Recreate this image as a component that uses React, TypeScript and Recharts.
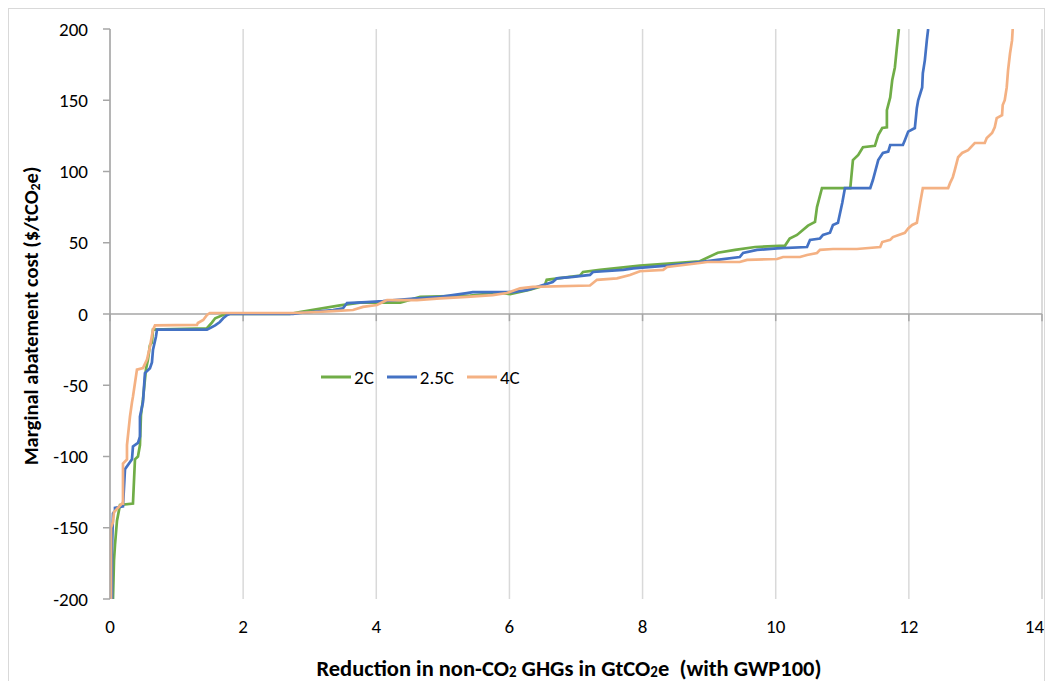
import { LineChart, Line, XAxis, YAxis, CartesianGrid, ReferenceLine } from 'recharts';

// Reduction (GtCO2e) vs marginal abatement cost ($/tCO2e)
const points2C: [number, number][] = [
  [0.045, -200], [0.06, -173], [0.075, -162], [0.105, -145], [0.15, -134], [0.345, -133], [0.375, -102],
  [0.42, -100], [0.45, -92], [0.465, -71], [0.495, -60], [0.54, -39], [0.57, -32], [0.6, -22], [0.63, -20],
  [0.646, -11], [1.457, -10], [1.53, -6], [1.58, -3], [1.73, 0], [2.7, 0], [2.85, 1.4], [3.455, 6],
  [3.755, 8], [4.36, 8], [4.66, 12], [5.41, 13], [5.86, 15], [6.01, 14], [6.31, 17], [6.53, 20], [6.56, 24],
  [7.06, 27], [7.105, 29.5], [7.36, 31], [7.96, 34], [8.86, 37], [9.13, 43], [9.39, 45], [9.69, 47],
  [10.14, 48], [10.21, 53], [10.32, 55.5], [10.485, 62], [10.59, 64.6], [10.62, 75], [10.695, 88.4],
  [11.12, 88.4], [11.15, 103], [11.16, 108], [11.24, 111.6], [11.31, 117], [11.49, 118], [11.54, 125.6],
  [11.6, 130.5], [11.67, 131], [11.67, 143], [11.72, 152], [11.75, 164], [11.79, 173], [11.82, 187], [11.85, 200],
];

const points25C: [number, number][] = [
  [0.03, -200], [0.03, -165], [0.045, -140], [0.075, -138], [0.075, -136], [0.195, -135], [0.225, -109],
  [0.33, -102], [0.345, -93], [0.42, -90.5], [0.45, -86], [0.45, -72], [0.495, -62], [0.525, -41.4],
  [0.6, -38], [0.63, -34], [0.646, -25], [0.69, -16], [0.706, -11], [1.457, -11], [1.58, -8], [1.65, -5.6],
  [1.7, -3], [1.76, -0.7], [1.8, 0], [2.75, 0], [2.85, 0.7], [3.35, 2.8], [3.5, 4], [3.56, 7.7], [3.86, 8.4],
  [4.1, 9], [4.61, 11], [4.96, 12], [5.36, 14.7], [5.45, 15.4], [6.05, 15.4], [6.26, 16.8], [6.35, 18],
  [6.41, 19], [6.65, 22.5], [6.71, 25], [6.955, 26], [7.21, 27.4], [7.255, 29.5], [7.71, 31], [7.86, 32],
  [8.37, 34], [8.86, 36.5], [9.12, 38], [9.46, 40], [9.51, 42.8], [9.72, 45], [10.02, 46], [10.47, 47],
  [10.515, 52], [10.665, 53], [10.71, 55.5], [10.815, 57], [10.86, 62.5], [10.935, 64], [11.0, 78],
  [11.04, 88.4], [11.42, 88.4], [11.46, 94], [11.54, 108], [11.61, 113], [11.69, 114], [11.72, 118.6],
  [11.91, 118.6], [11.94, 122], [11.99, 128], [12.09, 130.5], [12.12, 144.6], [12.14, 150], [12.2, 159],
  [12.21, 169], [12.24, 178], [12.27, 192], [12.29, 200],
];

const points4C: [number, number][] = [
  [0.015, -200], [0.015, -150], [0.045, -146], [0.06, -139], [0.18, -133], [0.195, -133], [0.195, -105],
  [0.255, -102], [0.255, -92], [0.3, -72], [0.33, -62], [0.345, -58], [0.405, -39], [0.495, -38],
  [0.556, -32], [0.6, -23], [0.646, -11], [0.676, -8], [1.307, -7.7], [1.32, -6.3], [1.4, -4.2],
  [1.457, -0.7], [1.5, 0.7], [2.75, 0.7], [3.11, 1.4], [3.35, 2], [3.65, 2.8], [3.8, 5], [4.01, 6.3],
  [4.1, 8.4], [4.16, 9.8], [4.61, 9.8], [4.96, 11], [5.36, 12], [5.75, 13.3], [5.96, 14.7], [6.16, 18],
  [6.35, 19], [7.21, 20], [7.315, 24], [7.615, 25], [7.81, 27.4], [7.96, 30], [8.31, 31], [8.37, 33],
  [8.86, 35.8], [8.97, 36.5], [9.46, 36.5], [9.57, 38], [10.02, 38.6], [10.11, 40], [10.365, 40],
  [10.47, 41.4], [10.62, 42.8], [10.665, 45], [10.86, 45.6], [11.22, 45.6], [11.57, 47], [11.6, 50.5],
  [11.72, 52], [11.76, 54], [11.94, 57], [11.99, 60], [12.05, 62.5], [12.12, 64], [12.17, 78], [12.21, 88.4],
  [12.59, 88.4], [12.62, 92], [12.66, 96], [12.69, 101], [12.74, 110], [12.8, 113], [12.89, 115], [12.99, 120],
  [13.14, 120], [13.17, 123.5], [13.25, 127], [13.29, 131], [13.32, 137.5], [13.4, 139.6], [13.41, 146.7],
  [13.44, 150], [13.47, 159], [13.49, 171], [13.52, 183], [13.55, 192], [13.56, 200],
];

const xTicks = [0, 2, 4, 6, 8, 10, 12, 14];
const yTicks = [-200, -150, -100, -50, 0, 50, 100, 150, 200];

const seriesInfo = [
  { name: '2C', color: '#70ad47', points: points2C },
  { name: '2.5C', color: '#4472c4', points: points25C },
  { name: '4C', color: '#f4b183', points: points4C },
];

const FONT = 'Calibri, Carlito, Lato, sans-serif';
const AXIS_GRAY = '#a6a6a6';
const GRID_GRAY = '#d9d9d9';

if (typeof document !== 'undefined') {
  document.body.style.overflow = 'hidden';
}

const toRows = (pts: [number, number][]) => pts.map(([x, y]) => ({ x, y }));

const YLabel = ({ viewBox }: any) => {
  const cx = viewBox.x + 22;
  const cy = viewBox.y + viewBox.height / 2 + 2;
  return (
    <text
      x={cx}
      y={cy}
      transform={`rotate(-90, ${cx}, ${cy})`}
      textAnchor="middle"
      dominantBaseline="central"
      fontFamily={FONT}
      fontWeight="bold"
      fontSize={20.5}
      fill="#000"
    >
      Marginal abatement cost ($/tCO
      <tspan dy={4} fontSize={14}>2</tspan>
      <tspan dy={-4}>e)</tspan>
    </text>
  );
};

const XLabel = ({ viewBox }: any) => {
  const cx = viewBox.x + viewBox.width / 2 - 7;
  const cy = viewBox.y + 69;
  return (
    <text x={cx} y={cy} textAnchor="middle" dominantBaseline="central" fontFamily={FONT} fontWeight="bold" fontSize={22.5} fill="#000">
      Reduction in non-CO
      <tspan dy={4} fontSize={15}>2</tspan>
      <tspan dy={-4}> GHGs in GtCO</tspan>
      <tspan dy={4} fontSize={15}>2</tspan>
      <tspan dy={-4}>e{'\u00a0 '}(with GWP100)</tspan>
    </text>
  );
};

export default function App() {
  return (
    <div style={{ position: 'relative', width: 1035, height: 672, border: '1px solid #d9d9d9', borderBottom: 'none', background: '#fff' }}>
      <LineChart
        width={1035}
        height={681}
        margin={{ top: 20, right: 2, left: 0, bottom: 0 }}
        style={{ overflow: 'visible' }}
      >
        <CartesianGrid horizontal={false} stroke={GRID_GRAY} strokeWidth={1.5} />
        <XAxis
          type="number"
          dataKey="x"
          domain={[0, 14]}
          ticks={xTicks}
          axisLine={false}
          tickLine={false}
          tickSize={0}
          tickMargin={21}
          height={91}
          tick={{ fontSize: 19, fontFamily: FONT, fill: '#000' }}
          label={<XLabel />}
        />
        <YAxis
          type="number"
          dataKey="y"
          domain={[-200, 200]}
          ticks={yTicks}
          allowDataOverflow
          width={101}
          axisLine={{ stroke: AXIS_GRAY, strokeWidth: 1.5 }}
          tickLine={{ stroke: AXIS_GRAY, strokeWidth: 1.5 }}
          tickSize={7}
          tickMargin={15}
          tick={{ fontSize: 19, fontFamily: FONT, fill: '#000' }}
          label={<YLabel />}
        />
        <ReferenceLine x={14} stroke={GRID_GRAY} strokeWidth={1.5} />
        <ReferenceLine y={0} stroke={AXIS_GRAY} strokeWidth={1.5} />
        {xTicks.map((t) => (
          <ReferenceLine
            key={t}
            segment={[{ x: t, y: 0 }, { x: t, y: -5 }]}
            stroke={AXIS_GRAY}
            strokeWidth={1.5}
          />
        ))}
        {seriesInfo.map((s) => (
          <Line
            key={s.name}
            name={s.name}
            data={toRows(s.points)}
            dataKey="y"
            type="linear"
            stroke={s.color}
            strokeWidth={2.7}
            dot={false}
            isAnimationActive={false}
          />
        ))}
      </LineChart>
      {/* legend sits inside the plot, like the original */}
      <div
        style={{
          position: 'absolute',
          top: 356,
          left: 312,
          height: 24,
          display: 'flex',
          alignItems: 'center',
          fontFamily: FONT,
          fontSize: 19,
          color: '#000',
        }}
      >
        {seriesInfo.map((s) => (
          <div key={s.name} style={{ display: 'flex', alignItems: 'center', marginRight: 13 }}>
            <svg width={30} height={4} style={{ marginRight: 3 }}>
              <line x1={0} y1={2} x2={30} y2={2} stroke={s.color} strokeWidth={3} />
            </svg>
            <span>{s.name}</span>
          </div>
        ))}
      </div>
    </div>
  );
}
